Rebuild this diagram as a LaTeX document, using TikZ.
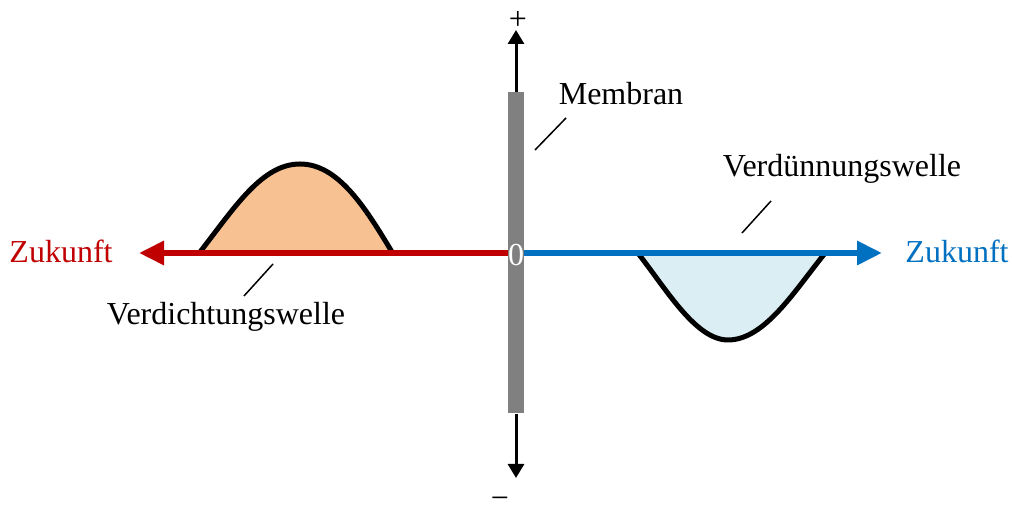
\documentclass[tikz,border=0pt]{standalone}
\usepackage{fontspec}
\setmainfont{Liberation Serif}
\usepackage{xcolor}
\definecolor{axisRed}{HTML}{C00000}
\definecolor{axisBlue}{HTML}{0070C0}
\definecolor{bumpPeach}{HTML}{F8C192}
\definecolor{dipBlue}{HTML}{DAEEF3}
\usepackage{tikz}
\usetikzlibrary{arrows.meta}

\begin{document}
\begin{tikzpicture}[x=0.5pt, y=0.5pt,
    every node/.style={font=\fontsize{16}{19}\selectfont, inner sep=0pt},
    axis/.style={line width=3pt, -{Triangle[length=12.5pt, width=11.5pt]}},
    pole/.style={line width=1.5pt, -{Triangle[length=7pt, width=8pt]}},
    wave/.style={line width=2.5pt, line join=round},
    leader/.style={line width=0.75pt}]
  \useasboundingbox (0,0) rectangle (1012,512);
  % anchor points
  \coordinate (O) at (516,259);       % middle of the membrane
  \coordinate (L) at (139,259);       % tip, left axis
  \coordinate (R) at (882,259);       % tip, right axis
  \coordinate (U) at (516,482);       % tip, plus
  \coordinate (D) at (516,34);        % tip, minus
  % compression wave (left)
  \fill[bumpPeach] (200,260) .. controls (235,305) and (262,348) .. (300,348)
    .. controls (338,348) and (365,305) .. (392,260) -- cycle;
  \draw[wave] (200,260) .. controls (235,305) and (262,348) .. (300,348)
    .. controls (338,348) and (365,305) .. (392,260);
  % rarefaction wave (right)
  \fill[dipBlue] (637,260) .. controls (665,225) and (695,172) .. (728,172)
    .. controls (765,172) and (795,222) .. (826,260) -- cycle;
  \draw[wave] (637,260) .. controls (665,225) and (695,172) .. (728,172)
    .. controls (765,172) and (795,222) .. (826,260);
  % both axes
  \draw[axis, axisRed]  (O) -- (L);
  \draw[axis, axisBlue] (O) -- (R);
  % membrane
  \node[fill=gray, minimum width=8pt, minimum height=160.5pt] (mem) at (O) {};
  \node[white, anchor=base] (zero) at (516,246) {0};
  \draw[pole] (mem.north) -- (U);
  \draw[pole] (mem.south) -- (D);
  \node (plus)  at (518,492) {+};
  \node (minus) at (500,9)   {−};
  % labels
  \node[anchor=base, axisRed]  (futL) at (61,249)  {Zukunft};
  \node[anchor=base, axisBlue] (futR) at (957,249) {Zukunft};
  \node[anchor=base] (memlab) at (621,407) {Membran};
  \node[anchor=base] (rare)   at (842,335) {Verdünnungswelle};
  \node[anchor=base] (comp)   at (226,187) {Verdichtungswelle};
  % leader lines
  \coordinate (m1) at (535,362);
  \coordinate (m2) at (566,394);
  \coordinate (r1) at (742,279);
  \coordinate (r2) at (771,311);
  \coordinate (c1) at (244,216);
  \coordinate (c2) at (273,248);
  \draw[leader] (m1) -- (m2);
  \draw[leader] (r1) -- (r2);
  \draw[leader] (c1) -- (c2);
\end{tikzpicture}
\end{document}
